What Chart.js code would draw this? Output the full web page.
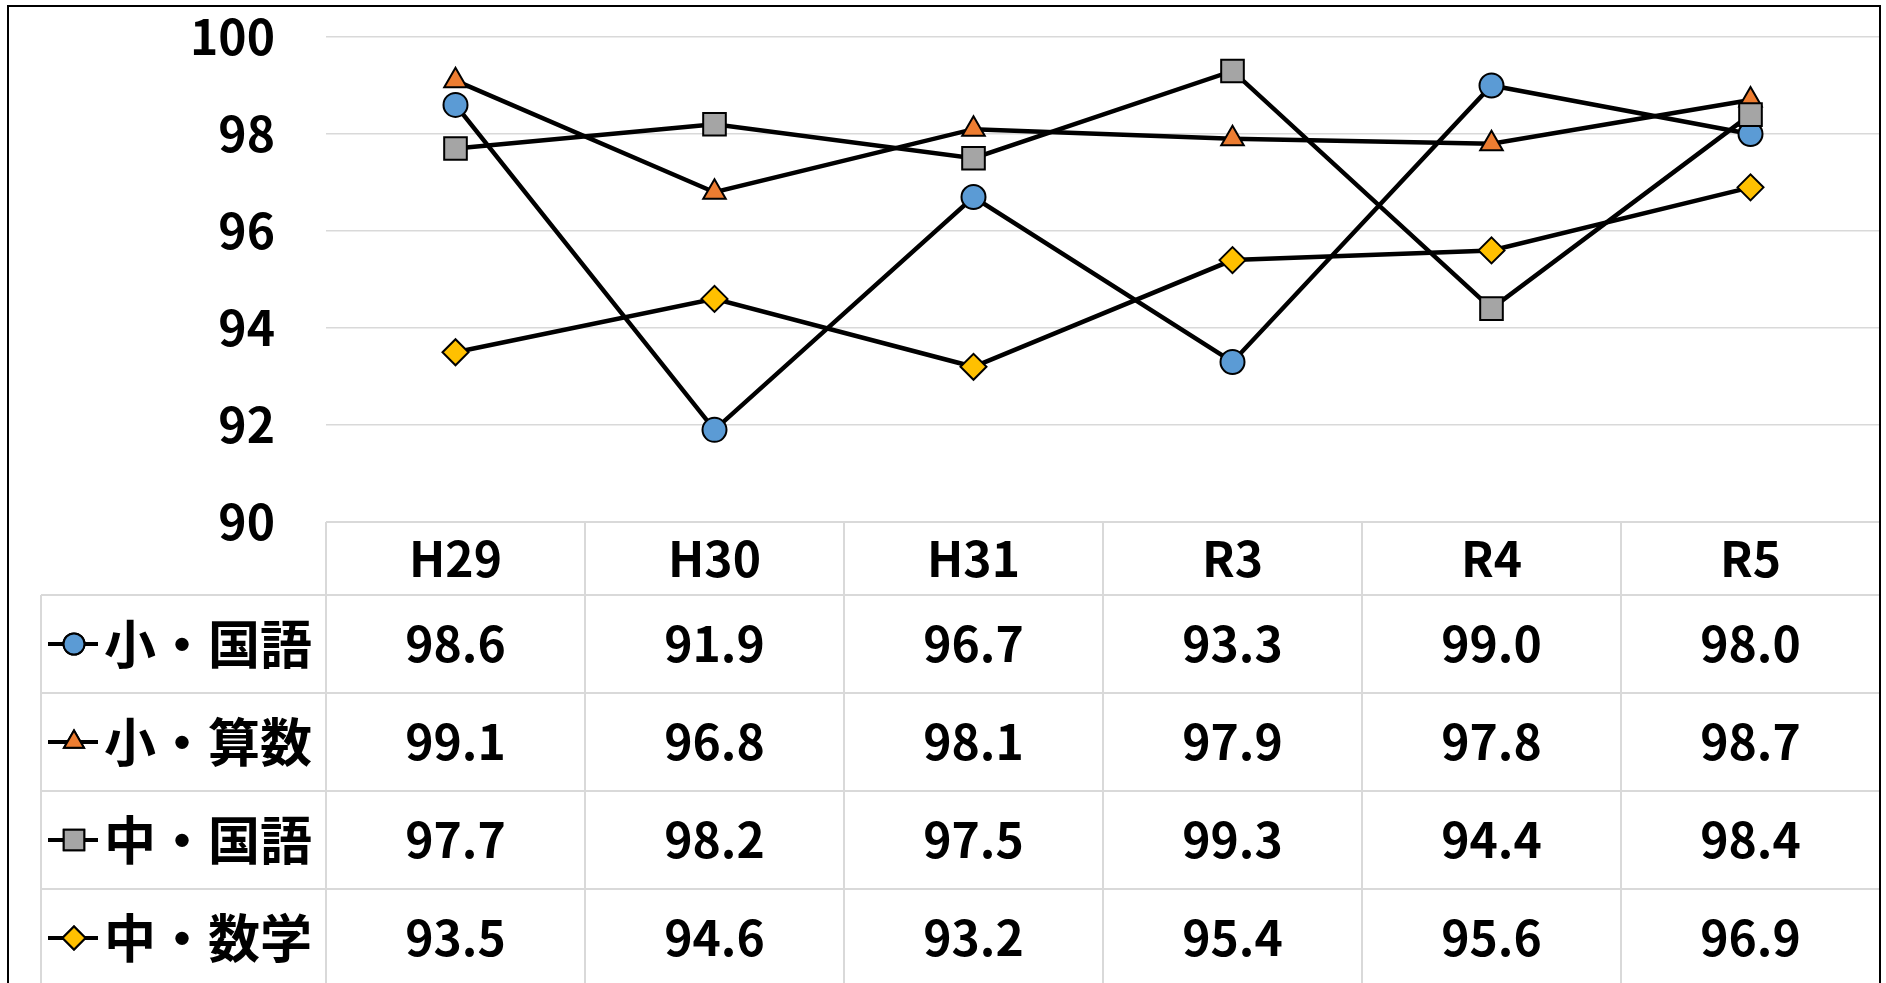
<!DOCTYPE html>
<html lang="ja">
<head>
<meta charset="utf-8">
<title>正答率の推移</title>
<script src="https://cdn.jsdelivr.net/npm/chart.js@4.4.1/dist/chart.umd.min.js"></script>
<style>
  html, body { margin: 0; padding: 0; background: #fff; }
  #wrap { width: 1886px; height: 983px; }
</style>
</head>
<body>
<div id="wrap"><canvas id="scoreChart" width="1886" height="983"></canvas></div>
<script>
const years = ["H29", "H30", "H31", "R3", "R4", "R5"];
const seriesNames = ["小・国語", "小・算数", "中・国語", "中・数学"];
const elemJapanese = [98.6, 91.9, 96.7, 93.3, 99.0, 98.0];
const elemMath = [99.1, 96.8, 98.1, 97.9, 97.8, 98.7];
const juniorJapanese = [97.7, 98.2, 97.5, 99.3, 94.4, 98.4];
const juniorMath = [93.5, 94.6, 93.2, 95.4, 95.6, 96.9];
const yTicks = [90, 92, 94, 96, 98, 100];

const FONT = '"Noto Sans CJK JP", "Noto Sans", sans-serif';
const GRID = "#d9d9d9";

const seriesValues = [elemJapanese, elemMath, juniorJapanese, juniorMath];
const markerStyles = [
  { style: "circle", color: "#5b9bd5", radius: 12 },
  { style: "triangle", color: "#ed7d31", radius: 13 },
  { style: "rect", color: "#a5a5a5", radius: 16 },
  { style: "rectRot", color: "#ffc000", radius: 13 }
];

// table rows under the plot: header row with the years, then one row per series
const dataTablePlugin = {
  id: "dataTable",
  afterDraw(chart) {
    const { ctx, chartArea, scales } = chart;
    const xScale = scales.x;
    const top = chartArea.bottom;
    const headerH = 73;
    const rowH = 98;
    const legendLeft = 41;
    const bottom = chart.height + 20;
    const half = (chartArea.right - chartArea.left) / years.length / 2;

    ctx.save();
    ctx.strokeStyle = GRID;
    ctx.lineWidth = 2;

    ctx.beginPath();
    ctx.moveTo(chartArea.left, top);
    ctx.lineTo(chartArea.right, top);
    for (let r = 0; r < seriesNames.length; r++) {
      const y = top + headerH + r * rowH;
      ctx.moveTo(legendLeft, y);
      ctx.lineTo(chartArea.right, y);
    }
    ctx.moveTo(legendLeft, top + headerH);
    ctx.lineTo(legendLeft, bottom);
    ctx.moveTo(chartArea.left, top);
    ctx.lineTo(chartArea.left, bottom);
    years.forEach((_, i) => {
      if (i === 0) return;
      const x = xScale.getPixelForValue(i) - half;
      ctx.moveTo(x, top);
      ctx.lineTo(x, bottom);
    });
    ctx.stroke();

    ctx.fillStyle = "#000";
    ctx.textAlign = "center";
    ctx.textBaseline = "middle";
    ctx.font = `bold 48px ${FONT}`;
    years.forEach((label, i) => {
      ctx.fillText(label, xScale.getPixelForValue(i), top + headerH / 2);
    });

    seriesNames.forEach((name, r) => {
      const cy = top + headerH + r * rowH + rowH / 2;
      ctx.font = `bold 48px ${FONT}`;
      ctx.textAlign = "center";
      seriesValues[r].forEach((v, i) => {
        ctx.fillText(v.toFixed(1), xScale.getPixelForValue(i), cy);
      });

      ctx.strokeStyle = "#000";
      ctx.lineWidth = 4;
      ctx.beginPath();
      ctx.moveTo(48, cy);
      ctx.lineTo(98, cy);
      ctx.stroke();

      const m = markerStyles[r];
      ctx.fillStyle = m.color;
      ctx.lineWidth = 2;
      Chart.helpers.drawPoint(ctx, { pointStyle: m.style, radius: m.radius - 1.5, rotation: 0, borderWidth: 2 }, 74, cy);
      ctx.fill();
      ctx.stroke();

      ctx.fillStyle = "#000";
      ctx.textAlign = "left";
      ctx.font = `bold 52px ${FONT}`;
      ctx.fillText(name, 104, cy);
    });

    // outer frame
    ctx.strokeStyle = "#000";
    ctx.lineWidth = 2;
    ctx.strokeRect(8, 6, 1872, 1000);
    ctx.restore();
  }
};

new Chart(document.getElementById("scoreChart"), {
  type: "line",
  data: {
    labels: years,
    datasets: seriesNames.map((name, i) => ({
      label: name,
      data: seriesValues[i],
      order: seriesNames.length - 1 - i,
      borderColor: "#000",
      borderWidth: 4.5,
      tension: 0,
      pointStyle: markerStyles[i].style,
      pointRadius: markerStyles[i].radius,
      pointBackgroundColor: markerStyles[i].color,
      pointBorderColor: "#000",
      pointBorderWidth: 2
    }))
  },
  options: {
    responsive: false,
    animation: false,
    devicePixelRatio: 1,
    layout: {
      autoPadding: false,
      padding: { left: 0, top: 37, right: 6, bottom: 461 }
    },
    plugins: {
      legend: { display: false },
      tooltip: { enabled: false }
    },
    scales: {
      x: {
        display: false,
        offset: true
      },
      y: {
        min: 90,
        max: 100,
        afterBuildTicks(scale) {
          scale.ticks = yTicks.map(v => ({ value: v }));
        },
        afterFit(scale) {
          scale.width = 326;
          // tick padding is meant for the horizontal gap only
          scale.paddingTop = 0;
          scale.paddingBottom = 0;
        },
        border: { display: false },
        grid: { color: GRID, lineWidth: 1.5, drawTicks: false },
        ticks: {
          padding: 51,
          color: "#000",
          font: { family: FONT, size: 48, weight: "bold" }
        }
      }
    }
  },
  plugins: [dataTablePlugin]
});
</script>
</body>
</html>
